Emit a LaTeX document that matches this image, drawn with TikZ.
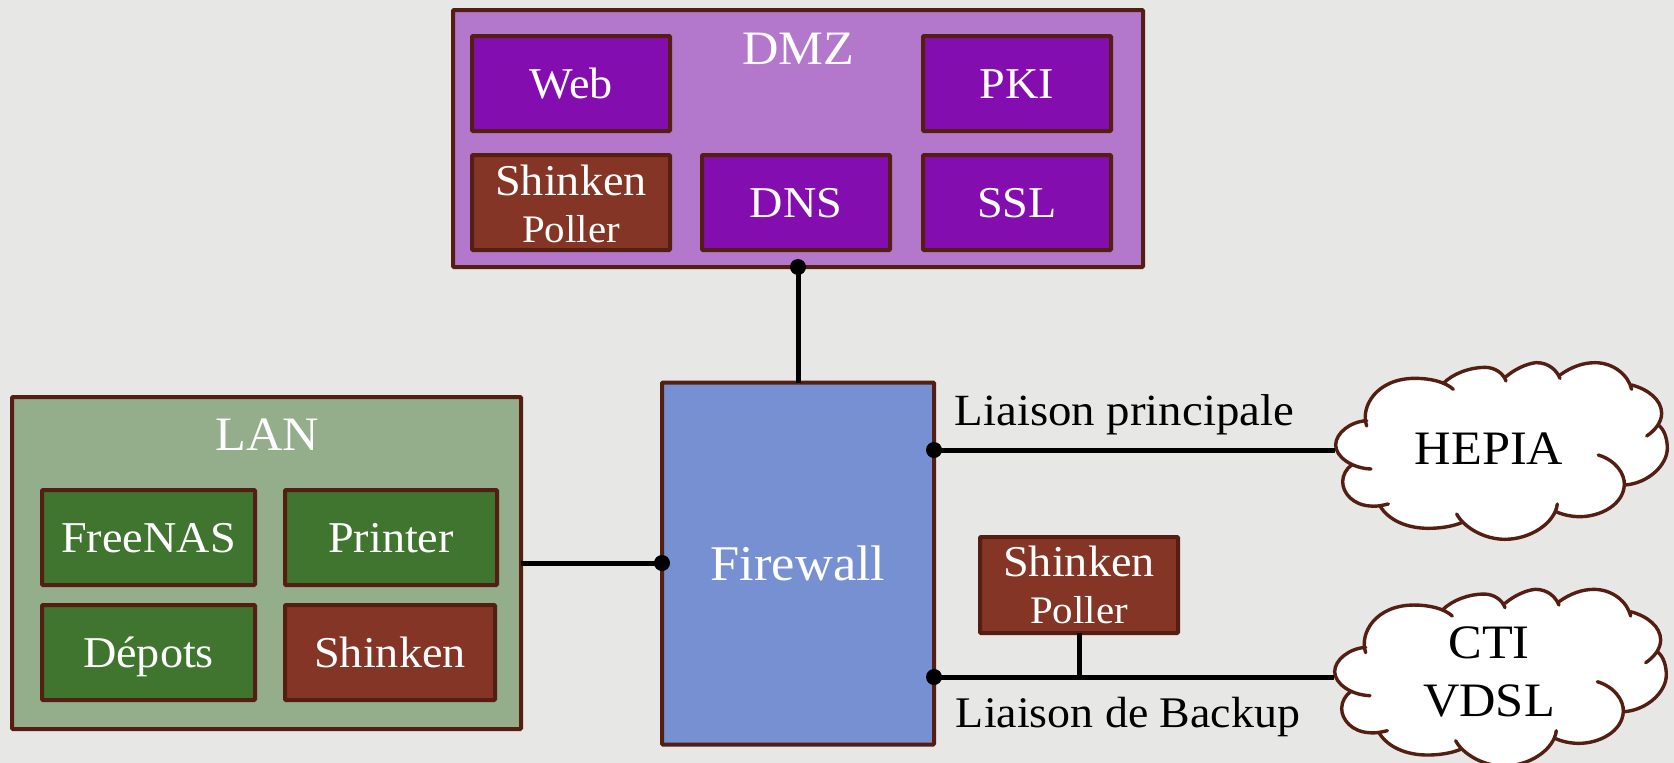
\documentclass[tikz,border=0pt]{standalone}
\usepackage{fontspec}
\setmainfont[FakeStretch=1.05]{Liberation Serif}
\newcommand{\fsA}{\fontsize{44}{46}\selectfont}
\newcommand{\fsB}{\fontsize{48}{50}\selectfont}
\newcommand{\fsC}{\fontsize{39}{46}\selectfont}
\definecolor{bgc}{HTML}{E7E7E5}
\definecolor{edgec}{HTML}{541F12}
\definecolor{dmzc}{HTML}{B378CC}
\definecolor{purplec}{HTML}{840DB0}
\definecolor{brownc}{HTML}{843525}
\definecolor{lanc}{HTML}{94AE8C}
\definecolor{greenc}{HTML}{407530}
\definecolor{fwc}{HTML}{7690D2}
\tikzset{
  x=1pt,y=-1pt,
  box/.style={draw=edgec,line width=4pt,rounded corners=1pt,inner sep=0pt,outer sep=0pt,text=white,align=center},
  singleline/.style={text height=29pt,text depth=0pt},
  purplebox/.style={box,singleline,fill=purplec,minimum width=198pt,minimum height=95pt,font=\fsA},
  brownbox/.style={box,fill=brownc,font=\fsA},
  greenbox/.style={box,singleline,fill=greenc,minimum width=213pt,minimum height=95pt,font=\fsA},
  panel/.style={box},
  wire/.style={draw=black,line width=5pt},
  dot/.style={circle,fill=black,inner sep=0pt,minimum size=16pt},
  lbl/.style={inner sep=0pt,text=black},
  cloudtext/.style={inner sep=0pt,text=black,font=\fsB,align=center},
  cloudline/.style={draw=edgec,line width=3.4pt,line cap=round},
}
\newcommand{\cloudshape}{%
  \fill[white] (140,228) .. controls (120,170) and (170,85) .. (285,85) -- (370,100) .. controls (400,70) and (450,52) .. (495,52) .. controls (525,52) and (550,70) .. (558,80) .. controls (600,45) and (640,38) .. (650,38) .. controls (685,38) and (710,60) .. (720,75) .. controls (755,50) and (790,38) .. (825,38) .. controls (880,38) and (925,75) .. (935,105) .. controls (985,118) and (1025,150) .. (1025,190) .. controls (1025,205) and (1020,215) .. (1015,225) .. controls (1035,240) and (1042,270) .. (1042,295) .. controls (1042,345) and (985,400) .. (915,405) .. controls (910,465) and (840,500) .. (780,500) .. controls (755,500) and (730,495) .. (708,485) .. controls (690,530) and (630,568) .. (555,568) .. controls (490,568) and (450,545) .. (425,518) .. controls (395,530) and (360,535) .. (325,535) .. controls (260,535) and (205,510) .. (180,468) .. controls (165,470) and (155,468) .. (150,468) .. controls (100,465) and (68,430) .. (68,395) .. controls (68,375) and (80,355) .. (95,345) .. controls (65,335) and (47,310) .. (47,285) .. controls (47,250) and (90,215) .. (140,212) -- cycle;
  \draw[cloudline] (140,228) .. controls (120,170) and (170,85) .. (285,85) .. controls (330,85) and (375,95) .. (400,118);
  \draw[cloudline] (370,100) .. controls (400,70) and (450,52) .. (495,52) .. controls (525,52) and (550,70) .. (558,93);
  \draw[cloudline] (558,80) .. controls (600,45) and (640,38) .. (650,38) .. controls (685,38) and (710,60) .. (720,85);
  \draw[cloudline] (720,75) .. controls (755,50) and (790,38) .. (825,38) .. controls (880,38) and (925,75) .. (935,118);
  \draw[cloudline] (935,105) .. controls (985,118) and (1025,150) .. (1025,190) .. controls (1025,220) and (1000,245) .. (980,258);
  \draw[cloudline] (1015,225) .. controls (1035,240) and (1042,270) .. (1042,295) .. controls (1042,345) and (985,400) .. (915,405);
  \draw[cloudline] (835,315) .. controls (885,330) and (915,370) .. (913,405) .. controls (910,465) and (840,500) .. (780,500) .. controls (755,500) and (730,495) .. (708,485);
  \draw[cloudline] (712,462) .. controls (705,520) and (630,568) .. (555,568) .. controls (490,568) and (430,530) .. (410,492);
  \draw[cloudline] (425,518) .. controls (395,530) and (360,535) .. (325,535) .. controls (260,535) and (205,510) .. (180,468);
  \draw[cloudline] (205,462) .. controls (180,468) and (165,470) .. (150,468) .. controls (100,465) and (68,430) .. (68,395) .. controls (68,375) and (80,355) .. (95,345);
  \draw[cloudline] (153,357) .. controls (95,355) and (47,320) .. (47,285) .. controls (47,250) and (90,215) .. (140,212);
}
\begin{document}
\begin{tikzpicture}
\useasboundingbox (0,0) rectangle (1674,763);
\fill[bgc] (0,0) rectangle (1674,763);

% DMZ
\node[panel,fill=dmzc,minimum width=690pt,minimum height=257pt] (dmz) at (798,138.5) {};
\node[inner sep=0pt,text=white,font=\fsB] (dmzt) at (798,49) {DMZ};
\node[purplebox] (web) at (571,83.5) {Web};
\node[purplebox,minimum width=188pt] (pki) at (1017,83.5) {PKI};
\node[brownbox,minimum width=198pt,minimum height=95pt] (pollera) at (571,202.5) {\rule{0pt}{33pt}Shinken\\[1pt]{\fsC Poller}};
\node[purplebox,minimum width=188pt] (dns) at (796,202.5) {DNS};
\node[purplebox,minimum width=188pt] (ssl) at (1017,202.5) {SSL};

% LAN
\node[panel,fill=lanc,minimum width=509pt,minimum height=332pt] (lan) at (266.5,563) {};
\node[inner sep=0pt,text=white,font=\fsB] (lant) at (267,435) {LAN};
\node[greenbox] (nas) at (148.5,537.5) {FreeNAS};
\node[greenbox,minimum width=212pt] (printer) at (391,537.5) {Printer};
\node[greenbox] (depots) at (148.5,652.5) {Dépots};
\node[brownbox,singleline,minimum width=210pt,minimum height=95pt] (shinken) at (390,652.5) {Shinken};

% Firewall
\node[box,fill=fwc,minimum width=272pt,minimum height=362pt,font=\fontsize{50}{52}\selectfont] (fw) at (798,563.5) {Firewall};

% Poller
\node[brownbox,minimum width=198pt,minimum height=96pt] (pollerb) at (1079,585) {\rule{0pt}{31pt}Shinken\\[1pt]{\fsC Poller}};

% Clouds
\begin{scope}[shift={(1320,350)},x=0.3333pt,y=-0.3333pt]
  \cloudshape
\end{scope}
\begin{scope}[shift={(1319,576.7)},x=0.3333pt,y=-0.3333pt]
  \cloudshape
\end{scope}
\node[cloudtext] (hepia) at (1489,449) {HEPIA};
\node[cloudtext] (cti) at (1489,672) {CTI\\[8.7pt]VDSL};
\coordinate (hepiaw) at (1335,450);
\coordinate (ctiw) at (1334,677);

% Connector anchors
\coordinate (fwtop) at (dmz.south -| fw.north);
\coordinate (fwl) at (fw.west |- lan.east);
\coordinate (fwp) at (fw.east |- hepiaw);
\coordinate (fwb) at (fw.east |- ctiw);
\coordinate (tee) at (pollerb.south |- ctiw);

% Connectors
\draw[wire] (fwtop) -- (fw.north);
\draw[wire] (lan.east) -- (fwl);
\draw[wire] (fwp) -- (hepiaw);
\draw[wire] (fwb) -- (ctiw);
\draw[wire] (pollerb.south) -- (tee);
\node[dot] (d1) at (fwtop) {};
\node[dot] (d2) at (fwl) {};
\node[dot] (d3) at (fwp) {};
\node[dot] (d4) at (fwb) {};

% Labels
\node[lbl,anchor=base,font=\fontsize{44.6}{46}\selectfont] (lp) at (1124.5,425) {Liaison principale};
\node[lbl,anchor=base,font=\fontsize{43.7}{46}\selectfont] (lb) at (1128,727) {Liaison de Backup};
\end{tikzpicture}
\end{document}
